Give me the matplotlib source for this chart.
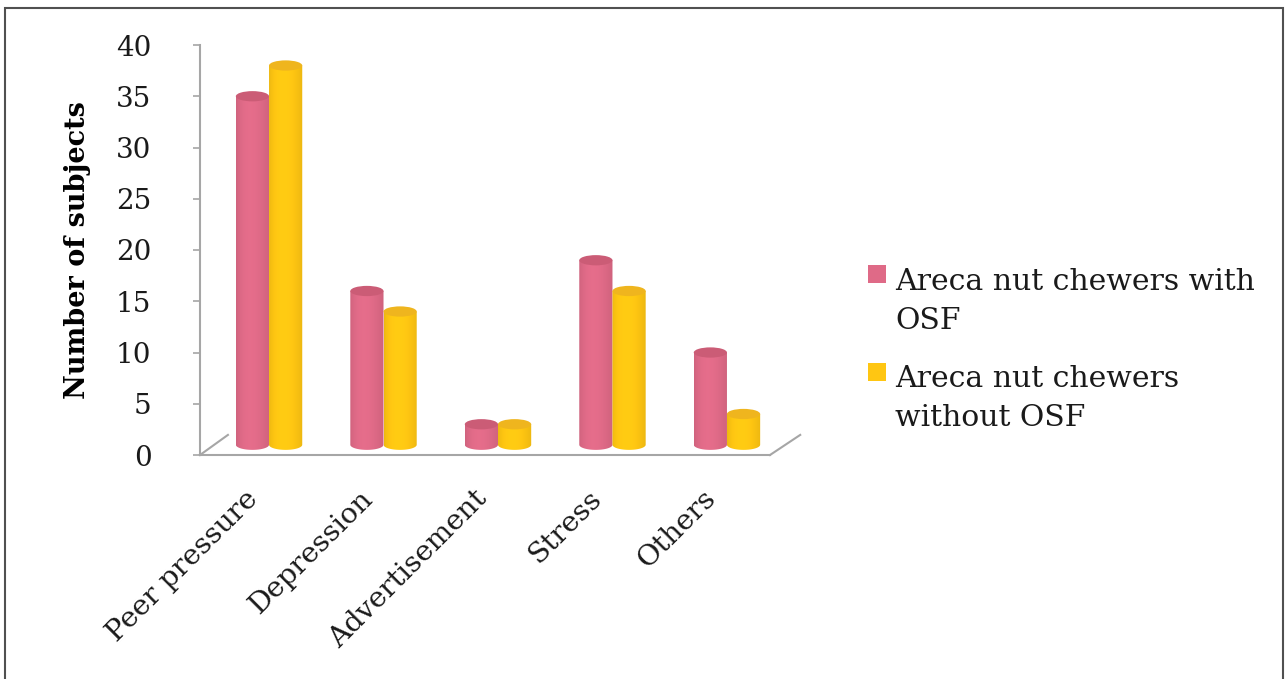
import matplotlib
matplotlib.use("Agg")
import matplotlib.pyplot as plt
import numpy as np
from matplotlib.patches import Ellipse, PathPatch, Rectangle
from matplotlib.path import Path
from matplotlib.lines import Line2D
from matplotlib.colors import to_rgb

# datos
categorias = ["Peer pressure", "Depression", "Advertisement", "Stress", "Others"]
con_osf = [34, 15, 2, 18, 9]
sin_osf = [37, 13, 2, 15, 3]
series = ["Areca nut chewers with\nOSF", "Areca nut chewers\nwithout OSF"]
y_ticks = [0, 5, 10, 15, 20, 25, 30, 35, 40]

rojo = "#DF6A87"
amarillo = "#FFC612"
tapa_roja = "#CB5C76"
tapa_amarilla = "#EFB51E"
gris = "#A6A6A6"

FUENTE = "DejaVu Serif"
W, H = 1286, 679

fig = plt.figure(figsize=(W / 100, H / 100), dpi=100)
ax = fig.add_axes([200 / W, 1 - 455 / H, 570 / W, 410 / H])

ancho = 0.29
prof = 1.0      # desplazamiento 3D del cilindro
alto_elipse = 1.0


def sombra(color, n=64):
    # gradiente horizontal suave para simular cilindro
    base = np.array(to_rgb(color))
    t = np.linspace(0, 1, n)
    f = 0.93 + 0.10 * np.sin(np.pi * t ** 0.8)
    img = np.clip(base[None, :] * f[:, None], 0, 1)
    return img[None, :, :]


def cilindro(xc, valor, color, tapa, z):
    x0, x1 = xc - ancho / 2, xc + ancho / 2
    top = valor + prof
    ang = np.linspace(np.pi, 2 * np.pi, 40)
    arco = np.column_stack([xc + ancho / 2 * np.cos(ang),
                            prof + alto_elipse / 2 * np.sin(ang)])
    verts = np.vstack([[x0, top], arco, [x1, top], [x0, top]])
    codes = [Path.MOVETO] + [Path.LINETO] * (len(verts) - 2) + [Path.CLOSEPOLY]
    clip = PathPatch(Path(verts, codes), facecolor="none", edgecolor="none")
    ax.add_patch(clip)
    im = ax.imshow(sombra(color), extent=(x0, x1, prof - alto_elipse / 2, top),
                   aspect="auto", interpolation="bilinear", zorder=z)
    im.set_clip_path(clip)
    ax.add_patch(Ellipse((xc, top), ancho, alto_elipse, facecolor=tapa,
                         edgecolor="none", zorder=z + 0.1))


x = np.arange(len(categorias))
for i in range(len(categorias)):
    cilindro(x[i] - ancho / 2, con_osf[i], rojo, tapa_roja, 3 + i)
    cilindro(x[i] + ancho / 2, sin_osf[i], amarillo, tapa_amarilla, 3.5 + i)

ax.set_xlim(-0.603, 4.376)
ax.set_ylim(0, 40)

for s in ["top", "right"]:
    ax.spines[s].set_visible(False)
for s in ["left", "bottom"]:
    ax.spines[s].set_color(gris)
    ax.spines[s].set_linewidth(1.5)

# lineas del piso en perspectiva
ax.add_line(Line2D([0, 0.049], [0, 0.049], transform=ax.transAxes,
                   color=gris, lw=1.5, clip_on=False))
ax.add_line(Line2D([1, 1.053], [0, 0.049], transform=ax.transAxes,
                   color=gris, lw=1.5, clip_on=False))

ax.set_yticks(y_ticks)
ax.set_yticklabels([str(v) for v in y_ticks], fontsize=20, family=FUENTE)
ax.tick_params(axis="y", length=5, width=1.2, color=gris, pad=30,
               labelcolor="#1a1a1a")
ax.set_xticks([])

for i, cat in enumerate(categorias):
    ax.annotate(cat, xy=(x[i] - 0.05, 0), xytext=(0, -30),
                textcoords="offset pixels", rotation=45, ha="right", va="top",
                fontsize=20.5, family=FUENTE, color="#1a1a1a",
                annotation_clip=False)

fig.text(78 / W, 1 - 250 / H, "Number of subjects", rotation=90, ha="center",
         va="center", fontsize=19.5, fontweight="bold", family=FUENTE)

# leyenda manual
for color, yc, texto, yb in [(rojo, 274, series[0], 290),
                             (amarillo, 372, series[1], 387)]:
    fig.patches.append(Rectangle((868 / W, 1 - (yc + 9) / H), 18 / W, 18 / H,
                                 transform=fig.transFigure, facecolor=color,
                                 edgecolor="none"))
    lineas = texto.split("\n")
    for k, l in enumerate(lineas):
        fig.text(895 / W, 1 - (yb + k * 39) / H, l, ha="left", va="baseline",
                 fontsize=21.5, family=FUENTE, color="#1a1a1a")

# marco de la imagen
fig.patches.append(Rectangle((5 / W, -0.05), 1278 / W, 1.05 - 8 / H,
                             transform=fig.transFigure, facecolor="none",
                             edgecolor="#505050", lw=1.5))

fig.savefig("out.png", dpi=100)
